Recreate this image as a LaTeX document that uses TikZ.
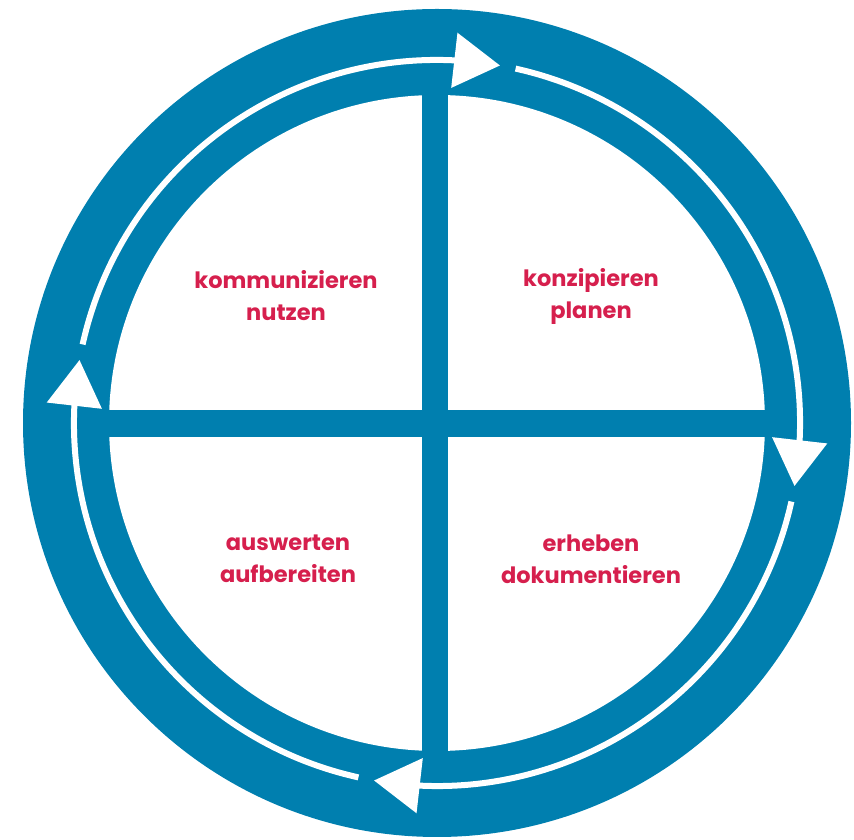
\documentclass[tikz,border=0pt]{standalone}
\usepackage{fontspec}
\setmainfont{Poppins}
\usetikzlibrary{arrows.meta,bending}
\definecolor{kreisblau}{RGB}{0,127,175}
\definecolor{textrot}{RGB}{214,31,77}
\tikzset{
  phase/.style={text=textrot, font=\fontsize{22.5}{32}\selectfont\bfseries, align=center},
  pfeil/.style={white, line width=6pt, -{Triangle[length=46pt,width=54pt]}}
}
\begin{document}
\begin{tikzpicture}[x=1pt,y=1pt]
    \useasboundingbox (0,0) rectangle (854,840);
    \coordinate (mitte) at (437,417);
    % ring and cross
    \fill[kreisblau] (mitte) circle[radius=414];
    \fill[white] (mitte) circle[radius=328];
    \fill[kreisblau] (422,80) rectangle (448,754);
    \fill[kreisblau] (90,403) rectangle (784,430);
    % cycle arrows
    \foreach \q in {90,0,-90,-180}
        \draw[pfeil] ([shift={(\q+77.5:363)}]mitte) arc[start angle=\q+77.5, end angle=\q-10, radius=363];
    % phases
    \node[phase] (kommunizieren) at (286,544) {kommunizieren\\nutzen};
    \node[phase] (konzipieren) at (591,544) {konzipieren\\planen};
    \node[phase] (auswerten) at (288,281) {auswerten\\aufbereiten};
    \node[phase] (erheben) at (591,281) {erheben\\dokumentieren};
\end{tikzpicture}
\end{document}
